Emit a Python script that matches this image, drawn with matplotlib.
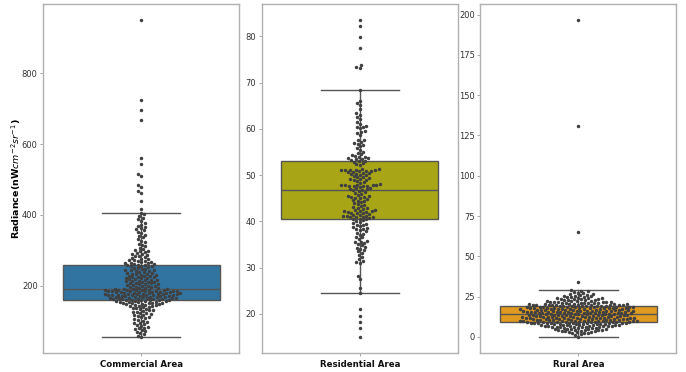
import matplotlib
matplotlib.use('Agg')
import matplotlib.pyplot as plt
import seaborn as sns

labels = ['Commercial Area', 'Residential Area', 'Rural Area']
box_colors = ['#3274a1', '#a8a617', '#e09a1f']

commercial = [
    950, 726, 697, 669, 560, 544, 514, 511, 485, 480, 467, 461, 440, 417,
    405, 401, 396, 392, 387, 383,
    376, 372, 368, 365, 362, 359, 356, 352, 348, 344, 340,
    336, 331, 327, 322, 318, 315, 311, 307, 303, 300,
    298, 297, 294, 292, 290, 288, 286, 284, 283, 280, 278, 276, 274, 272, 271,
    269, 268, 267, 266, 265, 264, 263, 262, 261,
    259, 258, 257, 256, 255, 254, 253, 251,
    249, 248, 246, 245, 244, 243, 242, 241,
    239, 238, 236, 235, 234, 233, 232, 231,
    229, 228, 227, 226, 225, 224, 223, 222, 221, 220,
    219, 218, 217, 216, 215, 214, 213, 212, 211, 210,
    209, 208, 207, 206, 205, 204, 203, 202, 201, 200,
    199, 198, 197, 196, 195, 194, 193, 192, 191, 190, 189.5,
    189, 188.5, 188, 187.5, 187, 186.5, 186, 185.5, 185, 184.5, 184, 183.5, 183,
    182.5, 182, 181.5, 181, 180.5, 180, 187.2, 185.2, 183.2,
    179.5, 179, 178.5, 178, 177.5, 177, 176.5, 176, 175.5, 175, 174.5, 174, 173.5,
    173, 172.5, 172, 171.5, 171, 170.5, 170, 176.2, 174.2,
    169.5, 169, 168.5, 168, 167.5, 167, 166.5, 166, 165.5, 165, 164.5, 164, 163.5,
    163, 162.5, 162, 161.5, 161, 160.5, 160, 159.5,
    159, 158.5, 158, 157, 156.5, 156, 155, 154.5, 154, 153, 152.5, 152, 151.5,
    151, 150.5, 150,
    149, 148, 147, 145.5, 145, 144, 143, 142, 141, 140,
    139, 137, 136, 134, 133, 131, 130,
    128, 126, 125, 123, 122, 120,
    118, 116, 114, 112, 110,
    108, 105, 103, 101,
    98, 95, 93, 91,
    88, 86, 84, 81,
    79, 76, 74, 71,
    68, 65, 62,
    57, 55,
]

residential = [
    83.5, 82.2, 79.9, 77.4, 73.9, 73.5, 73.2,
    68.4, 66.1, 65.7, 65.2, 64.3,
    63.4, 63.1, 62.6, 62.2,
    61.5, 61.0, 60.7, 60.5, 60.3, 60.1,
    59.6, 59.4, 59.2, 58.7,
    57.7, 57.5, 57.2, 57.0, 56.8, 56.5, 56.2,
    55.8, 55.4, 55.1,
    54.8, 54.5, 54.3, 54.1, 54.0,
    53.9, 53.8, 53.6, 53.5, 53.4, 53.3, 53.1, 53.0,
    52.8, 52.6, 52.3, 52.1,
    51.3, 51.2, 51.1, 51.0, 50.9, 51.25, 51.15, 51.05, 50.95, 50.85,
    50.7, 50.6, 50.5, 50.4, 50.3, 50.2, 50.1, 50.0,
    49.8, 49.6, 49.5, 49.4, 49.2, 49.1, 49.0,
    48.9, 48.7, 48.5, 48.3, 48.1,
    47.95, 47.9, 47.85, 47.8, 47.75, 47.7, 47.65, 47.6, 47.55, 47.5,
    47.2, 47.1, 47.0, 46.9, 46.8, 46.7,
    46.5, 46.3, 46.1, 46.0,
    45.6, 45.5, 45.4, 45.3, 45.2, 45.1, 45.0,
    44.8, 44.6, 44.5, 44.3, 44.1,
    43.9, 43.7, 43.5, 43.3, 43.1,
    42.9, 42.8, 42.6, 42.5,
    42.4, 42.3, 42.2, 42.1, 42.0, 41.9, 41.85, 41.8, 42.15,
    41.6, 41.4, 41.3, 41.2, 41.1, 41.0, 40.95, 40.9, 40.85, 40.8, 41.05,
    40.6, 40.5, 40.4, 40.2, 40.1,
    39.8, 39.6, 39.5, 39.3, 39.1,
    38.9, 38.7, 38.6, 38.4, 38.3, 38.1,
    37.8, 37.5, 37.3, 37.1,
    36.7, 36.5, 36.2,
    35.8, 35.6, 35.5, 35.3, 35.1,
    34.8, 34.5, 34.3, 34.1,
    33.8, 33.5, 33.2,
    32.7, 32.3,
    31.8, 31.5, 31.3, 31.0,
    28.2, 27.5, 25.5, 24.5,
    21.0, 19.4, 18.2, 17.0, 15.0,
]

rural = [
    196.5, 131.0, 65.3, 34.3,
    28.9, 28.6, 28.2,
    27.8, 27.4, 27.1, 26.8, 26.5, 26.2,
    25.9, 25.6, 25.4, 25.1, 24.9, 24.7, 24.5, 24.2, 24.0,
    23.9, 23.8, 23.7, 23.5, 23.4, 23.2, 23.0, 22.9, 22.7, 22.6, 22.4, 22.3, 22.1, 22.0,
    21.9, 21.8, 21.6, 21.5, 21.4, 21.3, 21.2, 21.0, 20.9, 20.8, 20.6, 20.5, 20.3,
    20.2, 20.1, 20.0, 21.7, 21.1, 20.7, 20.4,
    19.95, 19.9, 19.8, 19.7, 19.6, 19.5, 19.45, 19.4, 19.3, 19.2, 19.1, 19.0,
    18.9, 18.8, 18.75, 18.7, 18.6, 18.5, 18.4, 18.35, 18.3, 18.2, 18.1, 18.0,
    19.85, 19.55, 19.15, 18.85, 18.45, 18.15,
    17.95, 17.9, 17.8, 17.7, 17.65, 17.6, 17.5, 17.4, 17.35, 17.3, 17.25, 17.2,
    17.1, 17.0, 16.9, 16.85, 16.8, 16.7, 16.65, 16.6, 16.5, 16.45, 16.4, 16.3,
    16.2, 16.1, 16.05, 16.0,
    15.95, 15.9, 15.8, 15.75, 15.7, 15.6, 15.55, 15.5, 15.45, 15.4, 15.3, 15.25,
    15.2, 15.15, 15.1, 15.0, 14.9, 14.85, 14.8, 14.7, 14.65, 14.6, 14.55, 14.5,
    14.4, 14.3, 14.25, 14.2, 14.1, 14.0,
    13.95, 13.9, 13.8, 13.7, 13.65, 13.6, 13.5, 13.4, 13.35, 13.3, 13.25, 13.2,
    13.1, 13.0, 12.9, 12.85, 12.8, 12.7, 12.65, 12.6, 12.5, 12.45, 12.4, 12.3,
    12.2, 12.1, 12.05, 12.0,
    11.95, 11.9, 11.8, 11.75, 11.7, 11.6, 11.55, 11.5, 11.45, 11.4, 11.3, 11.25,
    11.2, 11.15, 11.1, 11.0, 10.9, 10.85, 10.8, 10.7, 10.65, 10.6, 10.55, 10.5,
    10.4, 10.3, 10.25, 10.2, 10.1, 10.0,
    9.95, 9.9, 9.8, 9.75, 9.7, 9.6, 9.55, 9.5, 9.45, 9.4, 9.3, 9.25, 9.2, 9.15,
    9.1, 9.0, 8.9, 8.85, 8.8, 8.7, 8.65, 8.6, 8.55, 8.5, 8.4, 8.3, 8.25, 8.2,
    8.1, 8.0, 8.45, 8.35,
    7.9, 7.8, 7.7, 7.6, 7.5, 7.45, 7.4, 7.3, 7.2, 7.1, 7.0, 6.9, 6.85, 6.8, 6.7,
    6.6, 6.5, 6.4, 6.3, 6.2, 6.1, 6.0,
    5.9, 5.8, 5.6, 5.5, 5.4, 5.2, 5.1, 5.0, 4.9, 4.7, 4.6, 4.5, 4.3, 4.2, 4.1, 4.0,
    3.9, 3.7, 3.5, 3.4, 3.2, 3.0, 2.8, 2.6, 2.4, 2.2,
    1.7, 1.1, 0.0,
]

line_col = '#555555'
fig, axes = plt.subplots(1, 3, figsize=(6.86, 3.72), dpi=100)
plt.subplots_adjust(left=0.063, right=0.986, top=0.988, bottom=0.052, wspace=0.115)

for ax, name, vals, col in zip(axes, labels, [commercial, residential, rural], box_colors):
    sns.swarmplot(x=[name] * len(vals), y=vals, ax=ax, color='.25', size=2.5, zorder=3)
    ax.boxplot([vals], positions=[0], widths=0.8, patch_artist=True,
               showfliers=False, manage_ticks=False,
               boxprops=dict(facecolor=col, edgecolor=line_col, linewidth=1.0),
               medianprops=dict(color=line_col, linewidth=1.0),
               whiskerprops=dict(color=line_col, linewidth=1.0),
               capprops=dict(color=line_col, linewidth=1.0))
    ax.set_xlim(-0.5, 0.5)
    ax.set_xlabel('')
    for s in ax.spines.values():
        s.set_color('#b0b0b0')
        s.set_linewidth(1.0)
    ax.tick_params(axis='y', labelsize=6, length=2, width=0.6,
                   color='#999999', labelcolor='#333333', pad=2)
    ax.tick_params(axis='x', labelsize=6.2, length=2, width=0.6,
                   color='#999999', labelcolor='#111111', pad=3)
    for t in ax.get_xticklabels():
        t.set_fontweight('bold')

axes[0].set_ylabel('Radiance(nW$cm^{-2}sr^{-1}$)', fontsize=6.8, fontweight='bold')
axes[0].yaxis.set_label_coords(-0.105, 0.5)

plt.savefig('out.png', dpi=100)
